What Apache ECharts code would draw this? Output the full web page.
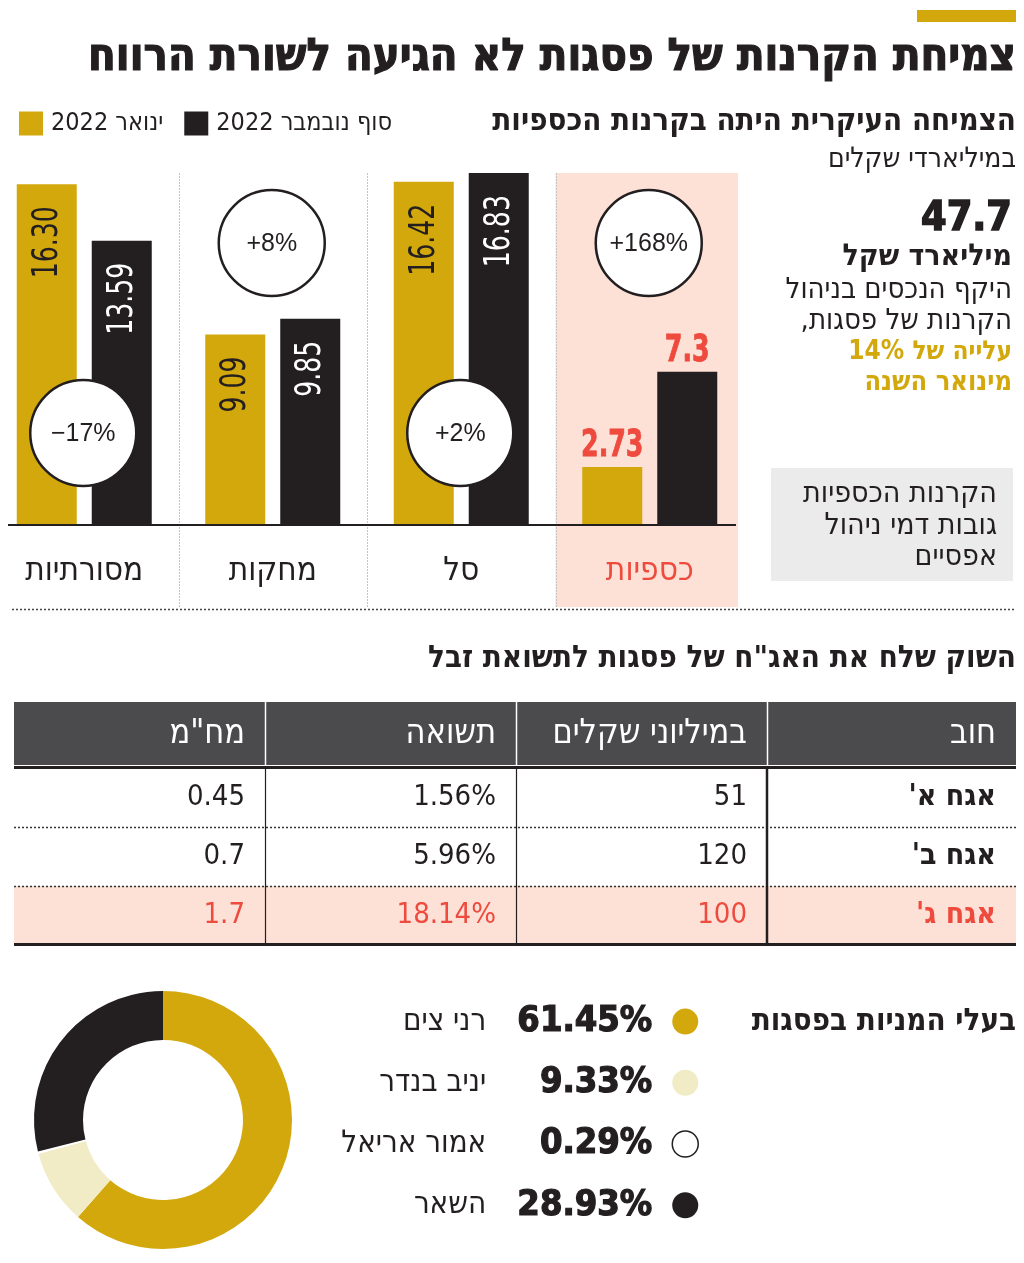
<!DOCTYPE html>
<html><head><meta charset="utf-8">
<script src="https://cdn.jsdelivr.net/npm/echarts@6/dist/echarts.min.js"></script>
<style>html,body{margin:0;padding:0;background:#fff}#c{width:1024px;height:1263px}</style>
</head><body><div id="c"></div>
<script>
// ---------- data ----------
const categories = ['מסורתיות', 'מחקות', 'סל', 'כספיות'];
const jan2022 = ['16.30', '9.09', '16.42', '2.73'];
const nov2022 = ['13.59', '9.85', '16.83', '7.3'];
const changeLabels = ['−17%', '+8%', '+2%', '+168%'];
const changeSlot = ['low', 'high', 'low', 'high'];
const seriesNames = ['ינואר 2022', 'סוף נובמבר 2022'];

const tableHeader = ['חוב', 'במיליוני שקלים', 'תשואה', 'מח"מ'];
const bondNames = ["אגח א'", "אגח ב'", "אגח ג'"];
const bondAmounts = ['51', '120', '100'];
const bondYields = ['1.56%', '5.96%', '18.14%'];
const bondDuration = ['0.45', '0.7', '1.7'];

const holderNames = ['רני צים', 'יניב בנדר', 'אמור אריאל', 'השאר'];
const holderShares = [61.45, 9.33, 0.29, 28.93];

// ---------- style ----------
const R = s => '\u202B' + s + '\u202C';
const GOLD = '#d3a80c', BLACK = '#231f20', RED = '#ee4a3e', PINK = '#fde0d6', CREAM = '#f1ecc6', HDR = '#4b4b4d';
const HEB = "'DejaVu Sans Condensed','DejaVu Sans',sans-serif";
const SANS = "'Liberation Sans','DejaVu Sans',sans-serif";
const HIGHLIGHT = 3;
const HIGHLIGHT_ROW = 2;
const pieColors = [GOLD, CREAM, '#ffffff', BLACK];

const chart = echarts.init(document.getElementById('c'), null, {renderer: 'canvas'});

function barSeries(idx, values, color) {
  return {
    type: 'bar', name: seriesNames[idx], barWidth: 60, barGap: '25%',
    itemStyle: {color: color}, z: 3, label: {show: false},
    data: values
  };
}

const option = {
  animation: false,
  legend: [{
    data: seriesNames, left: 14, top: 106, itemWidth: 24, itemHeight: 24, itemGap: 21, icon: 'rect',
    selectedMode: false, formatter: n => R(n),
    textStyle: {fontSize: 25, fontFamily: HEB, color: BLACK, padding: [0, 0, 0, 3]}
  }, {
    data: holderNames.map((n, i) => i === 2 ? {name: n, itemStyle: {borderColor: BLACK, borderWidth: 1.5}} : n),
    orient: 'vertical', align: 'right', right: 320, top: 998, itemWidth: 26, itemHeight: 26, itemGap: 24,
    icon: 'circle', selectedMode: false,
    formatter: n => '{n|' + R(n) + '}{p|' + holderShares[holderNames.indexOf(n)].toFixed(2) + '%}{s| }',
    textStyle: {
      rich: {
        n: {width: 160, align: 'right', fontSize: 31, lineHeight: 36, fontFamily: HEB, color: BLACK},
        p: {width: 166, align: 'right', fontSize: 36, lineHeight: 36, fontWeight: 'bold', fontFamily: HEB, color: BLACK,
            textBorderColor: BLACK, textBorderWidth: 1.2},
        s: {width: 15, fontSize: 10, lineHeight: 36}
      }
    }
  }],
  grid: {left: -10, width: 754, top: 107, height: 417, outerBoundsMode: 'none', containLabel: false},
  xAxis: {
    type: 'category',
    data: categories.map((c, i) => i === HIGHLIGHT ? {value: c, textStyle: {color: RED}} : c),
    axisLine: {show: false}, axisTick: {show: false},
    axisLabel: {margin: 31, fontSize: 33, fontFamily: HEB, color: BLACK, verticalAlign: 'top'}
  },
  yAxis: {type: 'value', min: 0, max: 20, show: false},
  series: [
    barSeries(0, jan2022, GOLD),
    barSeries(1, nov2022, BLACK),
    {
      type: 'pie', center: [163, 1120], radius: [80, 129], startAngle: 90, clockwise: true,
      label: {show: false}, labelLine: {show: false}, silent: true,
      data: holderNames.map((n, i) => ({name: n, value: holderShares[i], itemStyle: {color: pieColors[i]}}))
    }
  ]
};
chart.setOption(option);

// ---------- decorations built from axis positions ----------
const baseY = chart.convertToPixel({yAxisIndex: 0}, 0);
const centers = categories.map(c => chart.convertToPixel({xAxisIndex: 0}, c));
const step = centers[1] - centers[0];
const g = [];
function txt(x, y, text, font, color, align, extra) {
  g.push(Object.assign({type: 'text', x: x, y: y, z: 20,
    style: {text: text, font: font, fill: color, align: align || 'right', verticalAlign: 'middle'}}, extra || {}));
}
function line(x1, y1, x2, y2, color, w, dash, z) {
  g.push({type: 'line', z: z || 5, shape: {x1: x1, y1: y1, x2: x2, y2: y2},
    style: {stroke: color, lineWidth: w, lineDash: dash || null}});
}

// bar value labels, placed from the bars' own layout
[jan2022, nov2022].forEach((vals, s) => {
  const data = chart.getModel().getSeriesByIndex(s).getData();
  vals.forEach((v, i) => {
    const lay = data.getItemLayout(i);
    const cx = lay.x + lay.width / 2;
    const top = Math.min(lay.y, lay.y + lay.height);
    if (i === HIGHLIGHT) {
      g.push({type: 'text', x: cx, y: top - 2, z: 20, scaleX: 0.76,
        style: {text: v, font: 'bold 37px ' + HEB, fill: RED, align: 'center', verticalAlign: 'bottom',
          stroke: RED, lineWidth: 0.8}});
    } else {
      g.push({type: 'text', x: cx + 1, y: top + 22, z: 20, rotation: Math.PI / 2, scaleX: 0.8,
        style: {text: v, font: '35px ' + HEB, fill: s === 0 ? BLACK : '#fff', align: 'right', verticalAlign: 'middle'}});
    }
  });
});

// top bar + titles
const TITLE = 'צמיחת הקרנות של פסגות לא הגיעה לשורת הרווח';
g.push({type: 'rect', shape: {x: 917, y: 10, width: 99, height: 12}, style: {fill: GOLD}});
g.push({type: 'text', x: 1016, y: 58, z: 20, style: {text: R(TITLE), font: 'bold 45px ' + HEB, fill: BLACK,
  align: 'right', verticalAlign: 'middle', stroke: BLACK, lineWidth: 1.2}});
txt(1016, 122, R('הצמיחה העיקרית היתה בקרנות הכספיות'), 'bold 31px ' + HEB, BLACK);
txt(1016, 160, R('במיליארדי שקלים'), '28px ' + HEB, BLACK);

// pink highlight panel
g.push({type: 'rect', z: 0, shape: {x: centers[HIGHLIGHT] - step / 2, y: 173, width: 738 - (centers[HIGHLIGHT] - step / 2), height: 434}, style: {fill: PINK}});
// dotted dividers between categories
for (let i = 0; i < categories.length - 1; i++) {
  const x = Math.round(centers[i] + step / 2) + 0.5;
  line(x, 173, x, 607, '#c4c4c4', 1, [2, 1], 1);
}
// baseline
line(8, baseY + 1, 736, baseY + 1, BLACK, 2, null, 6);
// change circles
changeLabels.forEach((t, i) => {
  const cy = changeSlot[i] === 'high' ? 243 : 433;
  g.push({type: 'circle', z: 10, shape: {cx: centers[i] - 1, cy: cy, r: 53}, style: {fill: '#fff', stroke: BLACK, lineWidth: 2.5}});
  txt(centers[i] - 1, cy + 1, t, '25px ' + SANS, BLACK, 'center');
});

// right info block
g.push({type: 'text', x: 1012, y: 219, z: 20, style: {text: '47.7', font: 'bold 41px ' + HEB, fill: BLACK, align: 'right', verticalAlign: 'middle', stroke: BLACK, lineWidth: 1.5}});
txt(1012, 257, R('מיליארד שקל'), 'bold 30px ' + HEB, BLACK);
txt(1012, 290, R('היקף הנכסים בניהול'), '29px ' + HEB, BLACK);
txt(1012, 321, R('הקרנות של פסגות,'), '29px ' + HEB, BLACK);
txt(1012, 352, R('עלייה של 14%'), 'bold 26px ' + HEB, GOLD);
txt(1012, 383, R('מינואר השנה'), 'bold 27px ' + HEB, GOLD);
g.push({type: 'rect', shape: {x: 771, y: 468, width: 242, height: 113}, style: {fill: '#ebebeb'}});
txt(997, 494, R('הקרנות הכספיות'), '30px ' + HEB, BLACK);
txt(997, 526, R('גובות דמי ניהול'), '30px ' + HEB, BLACK);
txt(997, 557, R('אפסיים'), '30px ' + HEB, BLACK);

// section divider
line(12, 609.5, 1016, 609.5, '#444', 1.5, [2, 2]);

// table
txt(1016, 659, R('השוק שלח את האג"ח של פסגות לתשואת זבל'), 'bold 31px ' + HEB, BLACK);
const colEdges = [1016, 767, 516, 265, 14];
const tTop = 702, hdrH = 63, rowTop = 768, rowH = 59;
g.push({type: 'rect', shape: {x: 14, y: tTop, width: 1002, height: hdrH}, style: {fill: HDR}});
tableHeader.forEach((h, c) => txt(colEdges[c] - 20, tTop + hdrH / 2 + 1, R(h), '34px ' + HEB, '#fff'));
[1, 2, 3].forEach(c => line(colEdges[c] + 0.5, tTop, colEdges[c] + 0.5, tTop + hdrH, '#fff', 1.5));
g.push({type: 'rect', z: 1, shape: {x: 14, y: rowTop + HIGHLIGHT_ROW * rowH, width: 1002, height: rowH - 1}, style: {fill: PINK}});
const rows = bondNames.map((n, r) => [n, bondAmounts[r], bondYields[r], bondDuration[r]]);
rows.forEach((cells, r) => {
  const cy = rowTop + r * rowH + rowH / 2;
  const col = r === HIGHLIGHT_ROW ? RED : BLACK;
  cells.forEach((v, c) => txt(colEdges[c] - 20, cy, c === 0 ? R(v) : v, (c === 0 ? 'bold 30px ' : '29px ') + HEB, col));
  if (r > 0) line(14, rowTop + r * rowH + 0.5, 1016, rowTop + r * rowH + 0.5, '#333', 1.5, [2, 2]);
});
const tBottom = rowTop + rows.length * rowH;
line(14, rowTop - 0.5, 1016, rowTop - 0.5, BLACK, 3);
line(14, tBottom - 0.5, 1016, tBottom - 0.5, BLACK, 3);
line(265.5, rowTop, 265.5, tBottom, BLACK, 1.2);
line(516.5, rowTop, 516.5, tBottom, BLACK, 1.2);
line(767, rowTop, 767, tBottom, BLACK, 2.5);

// pie title
txt(1016, 1022, R('בעלי המניות בפסגות'), 'bold 31px ' + HEB, BLACK);

chart.setOption({graphic: g});
</script></body></html>
